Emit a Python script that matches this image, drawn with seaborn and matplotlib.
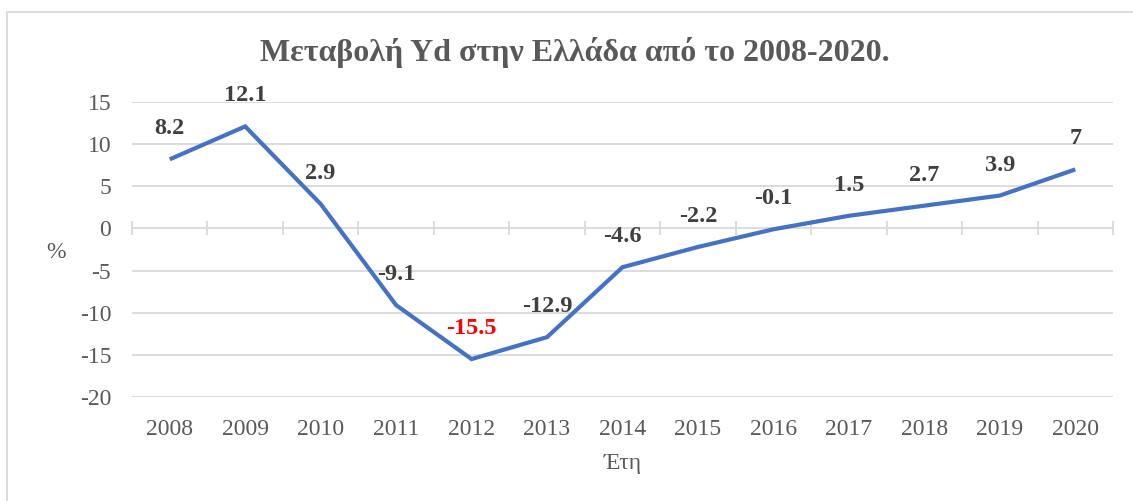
import matplotlib
matplotlib.use("Agg")
import matplotlib.pyplot as plt
import seaborn as sns
import pandas as pd
import numpy as np
from matplotlib.patches import Rectangle

years = ["2008", "2009", "2010", "2011", "2012", "2013", "2014",
         "2015", "2016", "2017", "2018", "2019", "2020"]
values = [8.2, 12.1, 2.9, -9.1, -15.5, -12.9, -4.6, -2.2, -0.1, 1.5, 2.7, 3.9, 7]
labels = ["8.2", "12.1", "2.9", "-9.1", "-15.5", "-12.9", "-4.6", "-2.2",
          "-0.1", "1.5", "2.7", "3.9", "7"]
yticks = [15, 10, 5, 0, -5, -10, -15, -20]
title = "Μεταβολή Yd στην Ελλάδα από το 2008-2020."
xlabel = "Έτη"
ylabel = "%"

sns.set_theme(style="white")
plt.rcParams['font.family'] = ['Liberation Serif', 'DejaVu Serif']

W, H = 1133, 501
fig = plt.figure(figsize=(W / 100, H / 100), dpi=100)
ax = fig.add_axes([132 / W, (H - 397) / H, (1113 - 132) / W, (397 - 102) / H])

df = pd.DataFrame({"year": years, "value": values})
df["x"] = np.arange(len(years))
sns.lineplot(data=df, x="x", y="value", ax=ax, color="#4472C4", linewidth=3.0,
             solid_capstyle="butt", solid_joinstyle="miter")

ax.set_xlim(-0.5, len(years) - 0.5)
ax.set_ylim(-20, 15)
ax.set_yticks(yticks)
ax.set_yticklabels([str(v) for v in yticks], fontsize=17, color="#595959")
ax.set_xticks(df["x"])
ax.set_xticklabels(years, fontsize=17, color="#595959")
ax.tick_params(axis="both", length=0)
ax.tick_params(axis="x", pad=16)
ax.tick_params(axis="y", pad=15)
for s in ax.spines.values():
    s.set_visible(False)
ax.grid(axis="y", color="#d9d9d9", linewidth=1.3)
ax.grid(axis="x", visible=False)
ax.set_axisbelow(True)

# x axis line at zero with cross ticks at category boundaries
sec = ax.secondary_xaxis(20 / 35)
sec.set_xticks(np.arange(len(years) + 1) - 0.5)
sec.set_xticklabels([])
sec.tick_params(axis="x", direction="inout", length=10, width=1.3, color="#d9d9d9")
sec.spines["bottom"].set_visible(False)
sec.spines["top"].set_visible(False)

for xi, v, lab in zip(df["x"], values, labels):
    col = "#FF0000" if lab == "-15.5" else "#404040"
    ax.annotate(lab, (xi, v), xytext=(0, 22), textcoords="offset points",
                ha="center", va="center", fontsize=17.5, fontweight="bold", color=col)

ax.set_xlabel(xlabel, fontsize=17, color="#595959", labelpad=9)
ax.set_ylabel("")
fig.text(56 / W, 1 - 252 / H, ylabel, ha="center", va="center", fontsize=17,
         color="#595959")
fig.text(575 / W, 1 - 52 / H, title, ha="center", va="center", fontsize=23,
         fontweight="bold", color="#595959")

fig.patches.append(Rectangle((7 / W, -0.1), 1.2, (H - 12) / H + 0.1,
                             transform=fig.transFigure, fill=False,
                             edgecolor="#d9d9d9", linewidth=1.3))

fig.savefig("out.png", dpi=100, facecolor="white")
